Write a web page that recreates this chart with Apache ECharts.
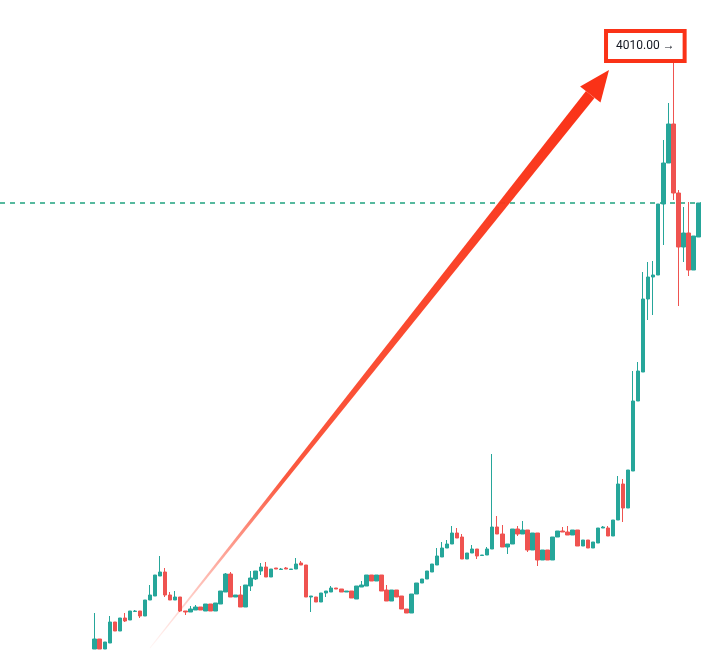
<!DOCTYPE html>
<html>
<head>
<meta charset="utf-8">
<script src="https://cdn.jsdelivr.net/npm/echarts@6/dist/echarts.min.js"></script>
<style>html,body{margin:0;padding:0;background:#fff;}#main{width:701px;height:650px;}</style>
</head>
<body>
<div id="main"></div>
<script>
// Candle values (price units)
var opens = [1005,1055,1005,1035,1140,1095,1160,1150,1192.5,1195,
1170,1250,1270,1370,1390,1275,1250,1265,1195,1190,
1200,1215,1195,1230,1195,1230,1290,1380,1265,1275,
1215,1320,1355,1395,1415,1365,1410,1402.5,1410,1402.5,
1405,1435,1425,1265,1265,1240,1285,1290,1310,1305,
1290,1295,1255,1315,1320,1375,1345,1375,1300,1245,
1300,1270,1205,1185,1280,1335,1355,1390,1425,1465,
1510,1530,1585,1565,1455,1485,1505,1472.5,1475,1505,
1615,1580,1515,1530,1605,1580,1600,1500,1585,1450,
1500,1450,1565,1595,1590,1575,1600,1520,1550,1510,
1535,1610,1610,1570,1650,1830,1710,1895,2245,2390,
2755,2865,2875,3230,3435,3630,3285,3015,3085,2900,
3065];
var closes = [1055,1005,1040,1140,1095,1160,1145,1195,1195,1170,
1250,1275,1375,1390,1275,1250,1265,1195,1190,1205,
1215,1200,1230,1195,1235,1295,1380,1265,1275,1215,
1325,1360,1395,1415,1365,1405,1405,1405,1405,1405,
1430,1425,1265,1270,1240,1285,1295,1310,1305,1290,
1295,1260,1320,1325,1375,1345,1375,1295,1245,1300,
1265,1205,1185,1280,1335,1355,1395,1430,1470,1510,
1530,1585,1560,1455,1485,1505,1470,1475,1505,1615,
1580,1515,1530,1605,1580,1600,1500,1585,1450,1500,
1450,1565,1595,1590,1575,1600,1520,1550,1510,1540,
1610,1615,1570,1650,1830,1710,1900,2245,2395,2755,
2865,2875,3230,3435,3630,3285,3015,3085,2900,3070,
3235];
var lows = [1005,1005,1005,1035,1095,1095,1140,1150,1190,1160,
1170,1250,1270,1370,1265,1250,1250,1190,1175,1190,
1200,1200,1195,1195,1195,1230,1290,1265,1265,1215,
1215,1295,1350,1375,1365,1365,1405,1400,1405,1400,
1405,1425,1265,1190,1240,1240,1265,1290,1305,1290,
1290,1260,1255,1315,1320,1345,1345,1295,1245,1245,
1265,1205,1185,1185,1280,1335,1355,1390,1425,1465,
1510,1530,1560,1455,1455,1485,1455,1470,1475,1505,
1580,1515,1480,1530,1570,1580,1490,1500,1420,1450,
1450,1450,1565,1590,1575,1575,1520,1520,1510,1510,
1535,1610,1570,1570,1650,1640,1710,1895,2245,2390,
2650,2675,2875,3025,3435,3250,2720,2940,2870,2900,
3065];
var highs = [1185,1055,1040,1170,1140,1160,1185,1195,1200,1195,
1250,1325,1375,1470,1410,1290,1295,1265,1195,1220,
1225,1215,1230,1230,1235,1295,1385,1390,1275,1320,
1325,1395,1395,1435,1440,1405,1410,1410,1415,1405,
1460,1445,1425,1270,1265,1285,1295,1320,1310,1305,
1295,1295,1320,1345,1375,1375,1375,1375,1325,1300,
1300,1270,1205,1280,1335,1355,1395,1430,1510,1540,
1550,1620,1610,1580,1485,1525,1505,1475,1515,1980,
1670,1625,1530,1605,1620,1645,1600,1585,1585,1500,
1500,1565,1595,1615,1620,1600,1600,1550,1550,1540,
1610,1620,1620,1650,1870,1855,1900,2395,2440,2890,
2940,2945,3230,3550,3735,4010,3300,3215,3240,3070,
3235];
var categories = opens.map(function (_, i) { return String(i + 1); });

var UP = '#26a69a', DOWN = '#ef5350', ACCENT = '#fa3217';

var candleData = opens.map(function (o, i) { return [o, closes[i], lows[i], highs[i]]; });
var maxIdx = 0;
highs.forEach(function (h, i) { if (h > highs[maxIdx]) maxIdx = i; });
var lastClose = closes[closes.length - 1];

var chart = echarts.init(document.getElementById('main'), null, {renderer: 'canvas'});
chart.setOption({
  animation: false,
  backgroundColor: '#ffffff',
  grid: {left: 92.2, top: 0, width: 609.8, height: 650},
  xAxis: {type: 'category', data: categories, show: false, boundaryGap: true},
  yAxis: {type: 'value', min: 1000, max: 4250, show: false, splitLine: {show: false}},
  series: [{
    type: 'candlestick',
    data: candleData,
    barWidth: 4,
    clip: false,
    itemStyle: {color: UP, color0: DOWN, borderColor: UP, borderColor0: DOWN, borderWidth: 1},
    markPoint: {
      silent: true,
      symbol: 'circle',
      symbolSize: 1,
      itemStyle: {color: 'rgba(0,0,0,0)'},
      label: {
        show: true,
        position: 'inside',
        offset: [-28, -2],
        formatter: function (p) { return p.value.toFixed(2) + ' \u2192'; },
        fontFamily: 'Roboto, sans-serif',
        fontSize: 12,
        color: '#131722',
        backgroundColor: '#ffffff',
        borderColor: ACCENT,
        borderWidth: 4,
        padding: [7, 8, 7, 8]
      },
      data: [{coord: [maxIdx, highs[maxIdx]], value: highs[maxIdx]}]
    }
  }]
});

// Price line at the last close, computed through the axis scale
var lineY = Math.round(chart.convertToPixel({gridIndex: 0}, [0, lastClose])[1]);

chart.setOption({
  graphic: [
    {
      type: 'line', z: 1, silent: true,
      shape: {x1: 0, y1: lineY, x2: 701, y2: lineY},
      style: {stroke: '#1fa37f', lineWidth: 1.5, lineDash: [5, 5]}
    },
    {
      type: 'polygon', z: 100, silent: true,
      shape: {points: [[149.6, 647.7], [150.4, 648.3], [594.5, 98], [586, 91]]},
      style: {
        fill: {
          type: 'linear', x: 0, y: 1, x2: 1, y2: 0,
          colorStops: [
            {offset: 0, color: 'rgba(255,90,70,0.05)'},
            {offset: 0.3, color: 'rgba(250,60,30,0.85)'},
            {offset: 1, color: ACCENT}
          ]
        }
      }
    },
    {
      type: 'polygon', z: 100, silent: true,
      shape: {points: [[609, 70], [600.5, 102.6], [580.1, 86.4]]},
      style: {fill: ACCENT}
    }
  ]
});
</script>
</body>
</html>
